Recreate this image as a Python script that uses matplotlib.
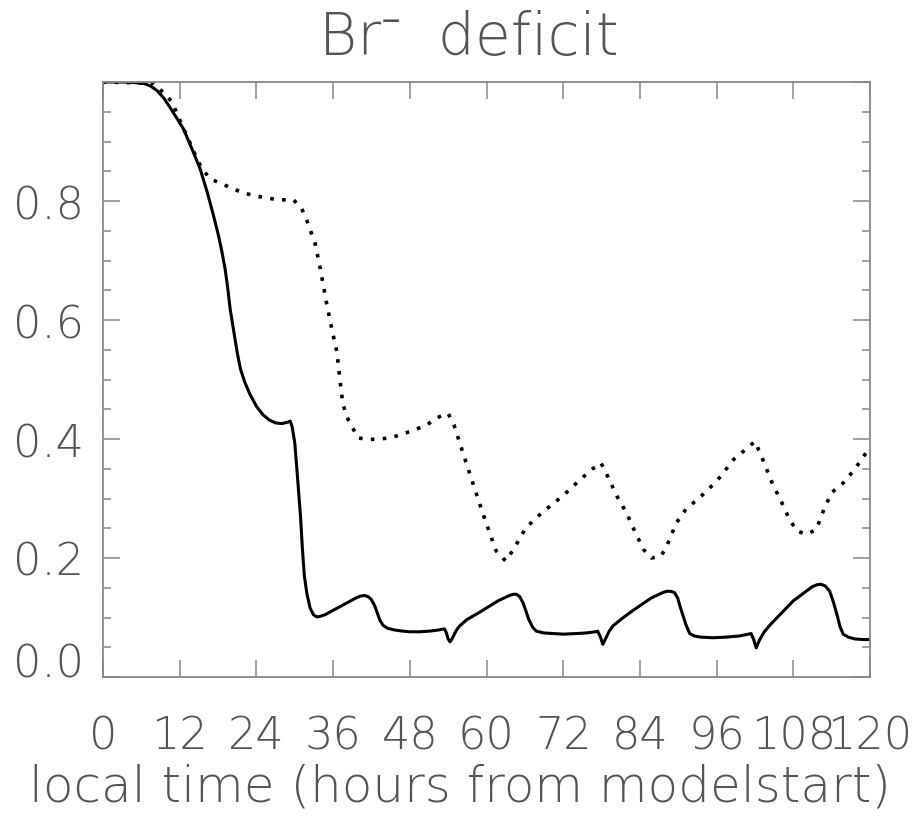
import numpy as np
import matplotlib
matplotlib.use('Agg')
import matplotlib.pyplot as plt
from matplotlib.ticker import MultipleLocator

# solid curve (hours, deficit)
t_solid = [0, 3, 5, 6.5, 7.5, 8.5, 9.5, 10.5, 11.5, 12.6, 13.9, 15.2, 16.3, 17.3, 18.0,
           18.6, 19.1, 19.5, 19.9, 20.4, 21.0, 21.5, 22.2, 23.0, 24.0, 25.0, 26.0, 27.0,
           28.0, 28.8, 29.3, 29.6, 30.0, 30.4, 30.9, 31.2, 31.5, 31.9, 32.4, 32.9, 33.4,
           34.0, 34.8, 36.0, 37.2, 38.4, 39.6, 40.3, 40.9, 41.5, 42.0, 42.5, 42.9, 43.3,
           43.8, 44.5, 45.6, 47.0, 48.0, 49.5, 51.0, 52.5, 53.4, 53.7, 54.0, 54.3, 54.7,
           55.2, 55.8, 57.0, 58.8, 60.3, 61.8, 63.0, 63.6, 64.2, 64.7, 65.2, 65.7, 66.2,
           66.6, 67.2, 67.8, 69.0, 70.5, 72.0, 74.0, 75.6, 77.0, 77.4, 77.8, 78.2, 78.7,
           79.2, 79.8, 81.3, 82.8, 84.3, 85.8, 87.0, 87.6, 88.2, 88.8, 89.4, 89.9, 90.3,
           90.6, 91.2, 91.8, 92.5, 93.5, 95.4, 97.5, 99.6, 101.0, 101.4, 101.8, 102.2,
           102.7, 103.4, 104.4, 106.2, 108.0, 109.5, 111.0, 111.7, 112.3, 113.0, 113.7,
           114.3, 114.9, 115.3, 115.8, 116.6, 117.6, 118.8, 120.0]
v_solid = [1.0, 1.0, 0.999, 0.997, 0.993, 0.985, 0.973, 0.957, 0.94, 0.921, 0.888, 0.854, 0.815, 0.775, 0.745,
           0.715, 0.686, 0.655, 0.618, 0.585, 0.545, 0.518, 0.495, 0.475, 0.455, 0.441, 0.432, 0.427,
           0.426, 0.428, 0.43, 0.42, 0.394, 0.34, 0.27, 0.215, 0.17, 0.14, 0.116, 0.105, 0.101,
           0.102, 0.105, 0.112, 0.119, 0.126, 0.133, 0.136, 0.137, 0.135, 0.130, 0.12, 0.108, 0.096,
           0.087, 0.082, 0.079, 0.077, 0.076, 0.076, 0.077, 0.079, 0.081, 0.075, 0.064, 0.059, 0.066,
           0.077, 0.086, 0.097, 0.108, 0.118, 0.128, 0.134, 0.137, 0.139, 0.139, 0.135, 0.125, 0.11,
           0.097, 0.084, 0.077, 0.074, 0.073, 0.072, 0.073, 0.074, 0.076, 0.077, 0.068, 0.055, 0.066,
           0.077, 0.086, 0.099, 0.111, 0.122, 0.133, 0.139, 0.142, 0.144, 0.144, 0.142, 0.133, 0.118,
           0.108, 0.088, 0.073, 0.069, 0.067, 0.066, 0.067, 0.069, 0.072, 0.073, 0.063, 0.049,
           0.062, 0.075, 0.088, 0.108, 0.128, 0.14, 0.152, 0.155, 0.156, 0.153, 0.144,
           0.125, 0.102, 0.085, 0.072, 0.067, 0.064, 0.063, 0.063]

# dotted curve
t_dot = [0, 7.8, 9.7, 10.8, 12.3, 13.1, 14.7, 15.5, 16.8, 18.6, 20.4, 22.2, 24.1, 26.2,
         28.0, 29.8, 31.1, 31.9, 33.2, 34.0, 35.0, 35.8, 36.6, 37.0, 37.5, 38.1, 38.9,
         39.9, 41.4, 43.2, 45.0, 46.8, 48.9, 50.7, 52.3, 54.0, 54.9, 55.8, 57.0, 58.2,
         59.4, 60.5, 61.5, 63.0, 64.2, 66.0, 67.5, 69.0, 70.5, 72.0, 73.5, 75.0, 76.5,
         77.9, 79.2, 80.4, 81.9, 83.4, 84.6, 85.8, 87.3, 88.2, 89.7, 91.2, 93.6, 96.0,
         98.7, 100.5, 102.0, 103.2, 104.7, 106.2, 107.4, 108.6, 110.1, 111.6, 112.8,
         114.0, 115.8, 117.6, 119.4, 120.0]
v_dot = [1.0, 0.998, 0.98, 0.966, 0.929, 0.91, 0.871, 0.854, 0.837, 0.829, 0.82, 0.813, 0.808, 0.804,
         0.802, 0.802, 0.787, 0.767, 0.728, 0.686, 0.627, 0.585, 0.546, 0.506, 0.461, 0.438, 0.422,
         0.402, 0.399, 0.400, 0.402, 0.408, 0.416, 0.424, 0.436, 0.443, 0.424, 0.394, 0.354, 0.315,
         0.276, 0.242, 0.212, 0.195, 0.214, 0.248, 0.265, 0.279, 0.292, 0.305, 0.320, 0.335, 0.349,
         0.36, 0.332, 0.304, 0.276, 0.240, 0.214, 0.200, 0.203, 0.220, 0.259, 0.282, 0.304, 0.329,
         0.366, 0.382, 0.396, 0.366, 0.326, 0.293, 0.265, 0.245, 0.240, 0.248, 0.282,
         0.310, 0.326, 0.349, 0.377, 0.385]

x_ticks = list(range(0, 121, 12))
y_ticks = [0.0, 0.2, 0.4, 0.6, 0.8, 1.0]
y_labels = ['0.0', '0.2', '0.4', '0.6', '0.8', '']

title = 'Br\u207b  deficit'
xlabel = 'local time (hours from modelstart)'

txt_color = '#555555'
ax_color = '#888888'
families = ['DejaVu Sans', 'Noto Sans', 'Liberation Sans']
plt.rcParams['font.family'] = families
plt.rcParams['font.weight'] = 200

fig = plt.figure(figsize=(9.18, 8.2), dpi=100)
ax = fig.add_axes([103/918, 142/820, 767/918, 595/820])

ax.plot(t_solid, v_solid, color='black', lw=2.2, solid_joinstyle='round')
ax.plot(t_dot, v_dot, color='black', lw=2.6, linestyle=(0, (1, 2.3)),
        dash_capstyle='butt')

ax.set_xlim(0, 120)
ax.set_ylim(0, 1.0)
ax.set_xticks(x_ticks)
ax.set_xticklabels([str(t) for t in x_ticks])
ax.set_yticks(y_ticks)
ax.set_yticklabels(y_labels)
ax.yaxis.set_minor_locator(MultipleLocator(0.05))

for s in ax.spines.values():
    s.set_color(ax_color)
    s.set_linewidth(1.3)

ax.tick_params(which='both', direction='in', top=True, right=True, color=ax_color,
               width=1.1, labelcolor=txt_color, labelsize=32)
ax.tick_params(which='major', length=12.2)
ax.tick_params(which='minor', length=5.8)
ax.tick_params(axis='x', pad=27)
ax.tick_params(axis='y', pad=14)
# IDL keeps the bottom label above the axis line
ax.get_yticklabels()[0].set_va('baseline')

ax.set_title(title, x=0.477, y=1.047, va='baseline', pad=0, fontsize=42,
             fontweight=200, family=families, color=txt_color)
ax.set_xlabel(xlabel, fontsize=36, fontweight=200, color=txt_color)
ax.xaxis.label.set_va('baseline')
ax.xaxis.set_label_coords(0.465, -0.208)

fig.savefig('out.png', dpi=100)
